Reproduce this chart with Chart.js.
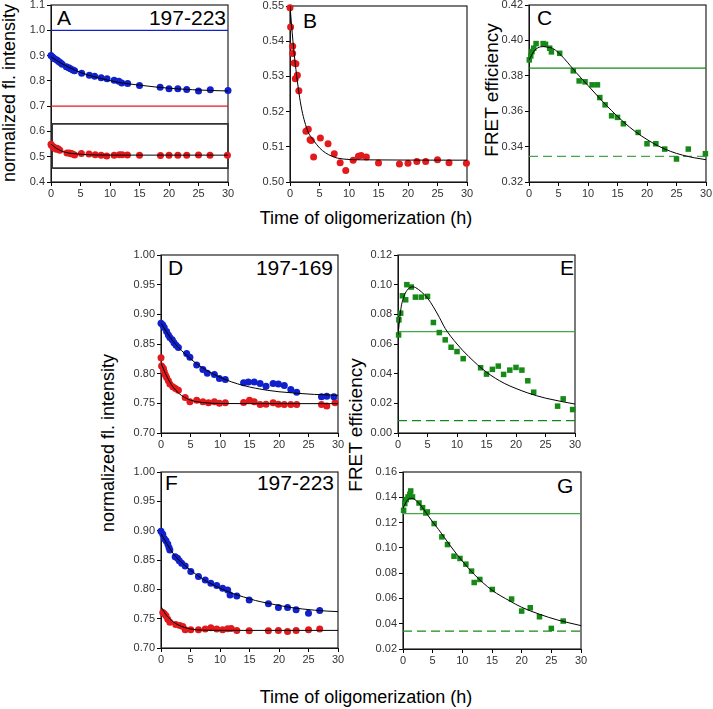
<!DOCTYPE html>
<html>
<head>
<meta charset="utf-8">
<script src="https://cdn.jsdelivr.net/npm/chart.js@4.4.1/dist/chart.umd.min.js"></script>
<style>
  body { margin: 0; background: #fff; font-family: "Liberation Sans", Arial, sans-serif; }
  #page { position: relative; width: 713px; height: 709px; overflow: hidden; }
  .lbl { position: absolute; color: #000; white-space: nowrap; line-height: 21px; }
  .letter { font-size: 21px; }
  .title { font-size: 18px; line-height: 18px; transform: translate(-50%, -50%); }
  .vtitle { font-size: 18px; line-height: 18px; transform: translate(-50%, -50%) rotate(-90deg); }
</style>
</head>
<body>
<div id="page">
  <div class="lbl letter" style="left:57px;top:7px">A</div>
  <div class="lbl letter" style="left:226px;top:7px;transform:translateX(-100%)">197-223</div>
  <div class="lbl letter" style="left:303px;top:10px">B</div>
  <div class="lbl letter" style="left:537px;top:7px">C</div>
  <div class="lbl letter" style="left:168px;top:257px">D</div>
  <div class="lbl letter" style="left:333px;top:257px;transform:translateX(-100%)">197-169</div>
  <div class="lbl letter" style="left:560px;top:257px">E</div>
  <div class="lbl letter" style="left:165px;top:472px">F</div>
  <div class="lbl letter" style="left:334px;top:472px;transform:translateX(-100%)">197-223</div>
  <div class="lbl letter" style="left:557px;top:475px">G</div>

  <div class="lbl vtitle" style="left:9px;top:93px">normalized fl. intensity</div>
  <div class="lbl vtitle" style="left:492px;top:90px;font-size:19px">FRET efficiency</div>
  <div class="lbl title" style="left:366px;top:218px">Time of oligomerization (h)</div>
  <div class="lbl vtitle" style="left:108px;top:443px">normalized fl. intensity</div>
  <div class="lbl vtitle" style="left:356px;top:425px;font-size:19px">FRET efficiency</div>
  <div class="lbl title" style="left:366px;top:697px">Time of oligomerization (h)</div>
</div>
<script>
// ---- data ----
// Panel A (197-223): blue and red series, with fits
const aBlueT = [0, 0.3, 0.6, 1, 1.3, 1.6, 1.9, 2.6, 3, 3.3, 3.7, 4, 5.2, 6.5, 7.4, 8.5, 9.5, 10.7, 11.5, 12, 13, 15, 18.5, 20, 21.5, 23, 25, 27, 30];
const aBlueY = [0.900, 0.893, 0.887, 0.882, 0.877, 0.872, 0.866, 0.856, 0.852, 0.848, 0.843, 0.840, 0.830, 0.822, 0.818, 0.812, 0.808, 0.802, 0.798, 0.792, 0.790, 0.782, 0.775, 0.769, 0.769, 0.766, 0.760, 0.765, 0.762];
const aBlueFitT = [0, 2, 4, 6, 8, 10, 12, 15, 18, 21, 24, 27, 30];
const aBlueFitY = [0.895, 0.866, 0.843, 0.825, 0.812, 0.801, 0.792, 0.783, 0.775, 0.769, 0.765, 0.762, 0.760];
const aRefLines = [1.0, 0.7];
const aBoxT = [0.2, 30, 30, 0.2, 0.2];
const aBoxY = [0.455, 0.455, 0.63, 0.63, 0.455];

// Panel B: red series (also drawn in A)
const redT = [0, 0.1, 0.45, 0.45, 0.7, 1.0, 0.9, 1.25, 1.5, 2.7, 3.1, 3.4, 3.6, 4.0, 5.15, 6.45, 7.5, 8.5, 9.45, 10.7, 11.6, 12.05, 12.95, 15, 18.55, 20, 21.5, 23, 25, 26.95, 29.9];
const redY = [0.5495, 0.544, 0.5386, 0.5365, 0.5338, 0.5336, 0.5293, 0.5303, 0.5259, 0.5144, 0.515, 0.512, 0.5118, 0.5071, 0.5125, 0.5109, 0.508, 0.5055, 0.5033, 0.5062, 0.5073, 0.5075, 0.5071, 0.5054, 0.5051, 0.5053, 0.5058, 0.5058, 0.5063, 0.5055, 0.5053];
const redFitT = [0, 0.5, 1, 1.5, 2, 3, 4, 5, 6, 7, 8, 10, 12, 30];
const redFitY = [0.55, 0.540, 0.532, 0.5255, 0.5205, 0.5145, 0.5118, 0.5097, 0.5083, 0.5074, 0.5068, 0.5064, 0.5063, 0.5062];

// Panel C: FRET efficiency
const cT = [0.05, 0.3, 0.5, 0.8, 1.2, 2.4, 2.8, 3.5, 3.8, 5.2, 7.5, 8.5, 9.5, 10.7, 11.6, 12, 12.9, 14, 15, 16, 18.5, 20, 21.5, 23, 25, 27, 29.9];
const cY = [0.389, 0.3912, 0.3937, 0.3956, 0.3982, 0.3982, 0.3978, 0.3956, 0.3935, 0.3927, 0.3828, 0.3771, 0.3766, 0.3749, 0.3749, 0.3677, 0.3636, 0.3574, 0.3565, 0.3529, 0.348, 0.3416, 0.3416, 0.3386, 0.333, 0.3386, 0.336];
const cFitT = [0, 0.5, 1, 1.5, 2, 2.5, 3, 4, 5, 6, 7, 8, 10, 12, 14, 16, 18, 20, 22, 24, 26, 28, 30];
const cFitY = [0.389, 0.392, 0.3945, 0.3958, 0.3964, 0.3965, 0.3962, 0.3955, 0.393, 0.3896, 0.3857, 0.3818, 0.3745, 0.3672, 0.3603, 0.354, 0.3485, 0.344, 0.3402, 0.3373, 0.3352, 0.3337, 0.3326];
const cSolid = 0.3843;
const cDashed = 0.3345;

// Panel D (197-169)
const dBlueT = [0, 0.3, 0.55, 0.95, 1.25, 1.5, 1.9, 2.2, 2.55, 2.95, 4.35, 4.9, 6.05, 7.1, 7.85, 9.05, 9.9, 10.9, 14, 14.8, 15.8, 16.8, 17.8, 19, 19.9, 20.9, 22, 23, 27.2, 28.1, 29.3];
const dBlueY = [0.885, 0.882, 0.8778, 0.871, 0.865, 0.861, 0.857, 0.852, 0.848, 0.844, 0.834, 0.8275, 0.8146, 0.807, 0.8005, 0.7988, 0.792, 0.790, 0.7847, 0.7858, 0.7858, 0.7835, 0.779, 0.7835, 0.7824, 0.780, 0.7734, 0.7688, 0.761, 0.762, 0.761];
const dBlueFitT = [0, 2, 4, 6, 8, 10, 12, 14, 16, 18, 20, 23, 26, 30];
const dBlueFitY = [0.885, 0.855, 0.834, 0.817, 0.804, 0.794, 0.786, 0.780, 0.7755, 0.772, 0.7695, 0.767, 0.765, 0.7635];
const dRedT = [0, 0.1, 0.4, 0.55, 0.75, 0.95, 1.25, 1.5, 2, 2.45, 2.95, 4.1, 4.9, 6.05, 7.1, 8.05, 9.05, 9.9, 10.9, 14, 15, 15.8, 16.8, 17.8, 19, 19.9, 20.9, 22, 23, 27.2, 28.1, 29.5];
const dRedY = [0.827, 0.8129, 0.809, 0.8033, 0.7976, 0.7937, 0.788, 0.7824, 0.7779, 0.775, 0.7722, 0.760, 0.7525, 0.7553, 0.7525, 0.7508, 0.7525, 0.750, 0.7508, 0.7514, 0.7553, 0.7525, 0.748, 0.7485, 0.7508, 0.7485, 0.748, 0.748, 0.748, 0.748, 0.7457, 0.7508];
const dRedFitT = [0, 0.5, 1, 1.5, 2, 3, 4, 5, 6, 8, 10, 15, 30];
const dRedFitY = [0.818, 0.806, 0.795, 0.786, 0.778, 0.767, 0.760, 0.7555, 0.7528, 0.7505, 0.7497, 0.7495, 0.7495];

// Panel E
const eT = [0.1, 0.15, 0.45, 0.75, 1.3, 1.5, 2.25, 2.95, 3.95, 5, 6, 7, 8, 9, 10, 11.05, 14, 15, 16, 17, 17.9, 18.95, 20, 21, 22, 23, 27.05, 28, 29.6];
const eY = [0.0661, 0.0763, 0.0808, 0.0925, 0.0898, 0.100, 0.0984, 0.0916, 0.0916, 0.0921, 0.0745, 0.0677, 0.0628, 0.0578, 0.0549, 0.0501, 0.044, 0.0397, 0.0429, 0.0451, 0.0395, 0.0424, 0.0442, 0.0424, 0.0352, 0.0275, 0.0181, 0.023, 0.0158];
const eFitT = [0, 0.5, 1, 1.5, 2, 2.5, 3, 4, 5, 6, 7, 8, 10, 12, 15, 18, 20, 22, 25, 30];
const eFitY = [0.066, 0.084, 0.092, 0.096, 0.098, 0.0985, 0.098, 0.095, 0.091, 0.085, 0.078, 0.0705, 0.060, 0.0515, 0.041, 0.0335, 0.030, 0.027, 0.0235, 0.0195];
const eSolid = 0.0684;
const eDashed = 0.0084;

// Panel F (197-223)
const fBlueT = [0, 0.3, 0.55, 0.85, 1.15, 1.35, 1.5, 2.4, 2.8, 3.1, 3.5, 4.1, 5.05, 6.35, 7.5, 8.45, 9.45, 10.45, 11.3, 11.7, 12.85, 14.95, 18.2, 19.9, 21.45, 22.9, 25, 26.9];
const fBlueY = [0.8992, 0.894, 0.8868, 0.8828, 0.8771, 0.8715, 0.867, 0.8556, 0.8528, 0.8488, 0.8443, 0.8398, 0.8302, 0.8217, 0.816, 0.8104, 0.8064, 0.8019, 0.799, 0.7905, 0.7888, 0.782, 0.7753, 0.769, 0.769, 0.7651, 0.7594, 0.764];
const fBlueFitT = [0, 2, 4, 6, 8, 10, 12, 14, 16, 18, 20, 22, 24, 26, 28, 30];
const fBlueFitY = [0.895, 0.862, 0.841, 0.825, 0.812, 0.802, 0.7935, 0.787, 0.781, 0.7765, 0.7725, 0.769, 0.7665, 0.7645, 0.763, 0.762];
const fRedT = [0.3, 0.55, 0.85, 1.15, 1.5, 2.5, 3.2, 3.7, 4.1, 5.05, 6.35, 7.5, 8.45, 9.45, 10.45, 11.3, 11.9, 12.85, 14.95, 18.2, 19.9, 21.45, 22.9, 25, 26.9];
const fRedY = [0.7606, 0.7583, 0.755, 0.7492, 0.744, 0.740, 0.7385, 0.7368, 0.7311, 0.7311, 0.7311, 0.7323, 0.7345, 0.7323, 0.7311, 0.7328, 0.7334, 0.730, 0.7294, 0.7294, 0.730, 0.7283, 0.730, 0.7311, 0.7323];
const fRedFitT = [0, 0.5, 1, 1.5, 2, 3, 4, 5, 6, 8, 10, 30];
const fRedFitY = [0.771, 0.762, 0.755, 0.7495, 0.745, 0.739, 0.735, 0.7325, 0.731, 0.7302, 0.730, 0.730];

// Panel G
const gT = [0.1, 0.3, 0.55, 0.85, 1.15, 1.3, 1.6, 2.7, 3.3, 3.85, 4.1, 5.25, 6.55, 7.5, 8.6, 9.6, 10.6, 11.55, 12, 12.95, 15.05, 18.3, 20, 21.45, 23, 25, 27];
const gY = [0.1297, 0.135, 0.1382, 0.1403, 0.1424, 0.145, 0.1403, 0.1355, 0.1318, 0.1276, 0.1284, 0.1192, 0.1087, 0.1026, 0.0934, 0.0916, 0.0871, 0.0816, 0.0726, 0.075, 0.0671, 0.0595, 0.050, 0.0526, 0.0455, 0.0363, 0.0421];
const gFitT = [0, 0.5, 1, 1.5, 2, 3, 4, 5, 6, 7, 8, 10, 12, 15, 18, 20, 23, 26, 30];
const gFitY = [0.131, 0.136, 0.1388, 0.1392, 0.1382, 0.1335, 0.127, 0.1205, 0.1145, 0.108, 0.1015, 0.0895, 0.079, 0.0665, 0.058, 0.053, 0.0475, 0.043, 0.0385];
const gSolid = 0.1271;
const gDashed = 0.0342;

const timeRange = [0, 30];

// ---- styling ----
const FONT = '"Liberation Sans", Arial, sans-serif';
const BLUE = '#1020cc';
const RED = '#e3191c';
const GREEN = '#168a16';
const LIGHT_GREEN = '#48a848';
const YW = 44, PT = 10, PR = 14, XH = 26;
const page = document.getElementById('page');

function pts(t, y) {
    return t.map((x, i) => ({ x: x, y: y[i] }));
}

function hline(v) {
    return timeRange.map(x => ({ x: x, y: v }));
}

function fit(t, y) {
    return { data: pts(t, y), showLine: true, pointRadius: 0, borderColor: '#000', borderWidth: 1, cubicInterpolationMode: 'monotone', order: 0 };
}

function dots(t, y, color) {
    return { data: pts(t, y), pointRadius: 3.5, pointBackgroundColor: color, pointBorderColor: color, pointBorderWidth: 0, clip: false, order: 1 };
}

function squares(t, y) {
    return { data: pts(t, y), pointStyle: 'rect', pointRadius: 3.9, pointBackgroundColor: GREEN, pointBorderColor: GREEN, pointBorderWidth: 0, clip: false, order: 1 };
}

function level(v, color, dashed) {
    return { data: hline(v), showLine: true, pointRadius: 0, borderColor: color, borderWidth: 1.2, borderDash: dashed ? [9, 5] : [], order: 2 };
}

// plot area frame (drawn under the points)
const frame = {
    id: 'frame',
    beforeDatasetsDraw(chart) {
        const a = chart.chartArea;
        const c = chart.ctx;
        c.save();
        c.strokeStyle = '#222';
        c.lineWidth = 1.2;
        c.strokeRect(a.left, a.top, a.right - a.left, a.bottom - a.top);
        c.restore();
    }
};

function makePanel(box, yMin, yMax, yStep, yDec, datasets) {
    const w = box.r - box.l, h = box.b - box.t;
    const W = w + YW + PR, H = h + PT + XH;
    const cv = document.createElement('canvas');
    cv.width = W;
    cv.height = H;
    cv.style.cssText = `position:absolute;left:${box.l - YW}px;top:${box.t - PT}px;width:${W}px;height:${H}px`;
    page.appendChild(cv);

    const tickFont = { size: 11, family: FONT };
    const grid = { drawOnChartArea: false, drawTicks: true, tickLength: 4, color: '#000' };
    return new Chart(cv, {
        type: 'scatter',
        data: { datasets: datasets },
        options: {
            responsive: false,
            animation: false,
            devicePixelRatio: 1,
            layout: { padding: { top: PT, right: PR, left: 0, bottom: 0 } },
            plugins: { legend: { display: false }, tooltip: { enabled: false } },
            scales: {
                x: {
                    type: 'linear', min: 0, max: 30,
                    afterFit: s => { s.height = XH; },
                    ticks: { stepSize: 5, color: '#333', font: tickFont, padding: 1, maxRotation: 0 },
                    grid: grid,
                    border: { color: '#000', width: 1 }
                },
                y: {
                    type: 'linear', min: yMin, max: yMax,
                    afterFit: s => { s.width = YW; },
                    ticks: { stepSize: yStep, color: '#333', font: tickFont, padding: 2, callback: v => v.toFixed(yDec) },
                    grid: grid,
                    border: { color: '#000', width: 1 }
                }
            }
        },
        plugins: [frame]
    });
}

makePanel({ l: 51, r: 228, t: 5, b: 182 }, 0.4, 1.1, 0.1, 1, [
    fit(aBlueFitT, aBlueFitY),
    fit(redFitT, redFitY),
    dots(aBlueT, aBlueY, BLUE),
    dots(redT, redY, RED),
    level(aRefLines[0], BLUE, false),
    level(aRefLines[1], RED, false),
    { data: pts(aBoxT, aBoxY), showLine: true, pointRadius: 0, borderColor: '#333', borderWidth: 1.6, clip: false, order: 2 }
]);

makePanel({ l: 290, r: 467, t: 6, b: 182 }, 0.50, 0.55, 0.01, 2, [
    fit(redFitT, redFitY),
    dots(redT, redY, RED)
]);

makePanel({ l: 529, r: 706, t: 5, b: 182 }, 0.32, 0.42, 0.02, 2, [
    fit(cFitT, cFitY),
    squares(cT, cY),
    level(cSolid, GREEN, false),
    level(cDashed, LIGHT_GREEN, true)
]);

makePanel({ l: 161, r: 338, t: 255, b: 433 }, 0.70, 1.00, 0.05, 2, [
    fit(dBlueFitT, dBlueFitY),
    fit(dRedFitT, dRedFitY),
    dots(dBlueT, dBlueY, BLUE),
    dots(dRedT, dRedY, RED)
]);

makePanel({ l: 398, r: 575, t: 255, b: 433 }, 0.00, 0.12, 0.02, 2, [
    fit(eFitT, eFitY),
    squares(eT, eY),
    level(eSolid, LIGHT_GREEN, false),
    level(eDashed, GREEN, true)
]);

makePanel({ l: 161, r: 338, t: 472, b: 648 }, 0.70, 1.00, 0.05, 2, [
    fit(fBlueFitT, fBlueFitY),
    fit(fRedFitT, fRedFitY),
    dots(fBlueT, fBlueY, BLUE),
    dots(fRedT, fRedY, RED)
]);

makePanel({ l: 403, r: 581, t: 472, b: 649 }, 0.02, 0.16, 0.02, 2, [
    fit(gFitT, gFitY),
    squares(gT, gY),
    level(gSolid, LIGHT_GREEN, false),
    level(gDashed, GREEN, true)
]);
</script>
</body>
</html>
